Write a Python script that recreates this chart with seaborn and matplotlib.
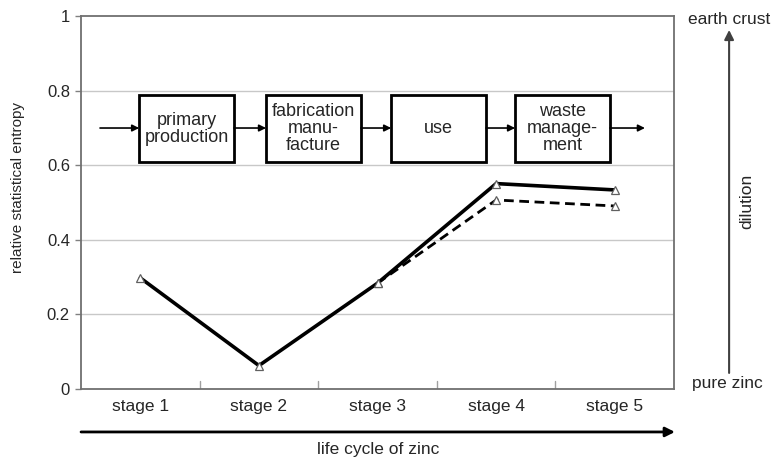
import pandas as pd
import numpy as np
import matplotlib
matplotlib.use('Agg')
import matplotlib.pyplot as plt
import matplotlib.transforms as mtransforms
from matplotlib.patches import Rectangle, FancyArrowPatch
import seaborn as sns

# data
stages = ['stage 1', 'stage 2', 'stage 3', 'stage 4', 'stage 5']
entropy_solid = [0.298, 0.063, 0.284, 0.551, 0.534]
dashed_stages = ['stage 3', 'stage 4', 'stage 5']
entropy_dashed = [0.284, 0.507, 0.491]

box_labels = ['primary\nproduction', 'fabrication\nmanu-\nfacture', 'use', 'waste\nmanage-\nment']
y_ticks = [0, 0.2, 0.4, 0.6, 0.8, 1]
y_tick_labels = ['0', '0.2', '0.4', '0.6', '0.8', '1']

sns.set_style('white')
plt.rcParams['font.family'] = ['Liberation Sans', 'DejaVu Sans']

df_solid = pd.DataFrame({'stage': stages, 'entropy': entropy_solid})
df_dashed = pd.DataFrame({'stage': dashed_stages, 'entropy': entropy_dashed})

fig = plt.figure(figsize=(7.74, 4.61), dpi=100)
ax = fig.add_axes([0.1047, 0.156, 0.7661, 0.809])

# grid lines
for y in y_ticks[1:-1]:
    ax.axhline(y, color='#c8c8c8', lw=1, zorder=0)

marker_kw = dict(marker='^', markersize=6, markerfacecolor='white',
                 markeredgecolor='#606060', markeredgewidth=0.9)
# solid first so the category order follows stage 1..5
sns.lineplot(data=df_solid, x='stage', y='entropy', ax=ax, color='black',
             lw=2.6, zorder=4, **marker_kw)
sns.lineplot(data=df_dashed, x='stage', y='entropy', ax=ax, color='black',
             lw=2, linestyle=(0, (3.5, 2)), zorder=3, **marker_kw)

ax.set_xlim(-0.5, 4.5)
ax.set_ylim(0, 1)
ax.set_yticks(y_ticks)
ax.set_yticklabels(y_tick_labels, fontsize=12)
ax.set_xticks(range(len(stages)))
ax.set_xticklabels(stages, fontsize=12.5)
ax.tick_params(axis='x', length=0, pad=7)
ax.tick_params(axis='y', length=4, width=1, color='#808080', pad=4, direction='out', left=True)
# category separator ticks
for xb in np.arange(0.5, len(stages) - 1, 1.0):
    ax.plot([xb, xb], [0, 0.022], color='#a0a0a0', lw=1, zorder=1)
ax.set_xlabel('')
ax.set_ylabel('')
for sp in ax.spines.values():
    sp.set_color('#707070')
    sp.set_linewidth(1.3)

# process boxes
box_left = [0.098, 0.312, 0.523, 0.732]
box_w = 0.16
box_y0, box_y1 = 0.609, 0.788
blend = mtransforms.blended_transform_factory(ax.transAxes, ax.transData)
for left, lab in zip(box_left, box_labels):
    ax.add_patch(Rectangle((left, box_y0), box_w, box_y1 - box_y0, transform=blend,
                           fill=True, facecolor='white', edgecolor='black', lw=2, zorder=5))
    ax.text(left + box_w / 2, (box_y0 + box_y1) / 2, lab, transform=blend, ha='center',
            va='center', fontsize=13, linespacing=1.0, zorder=6)
arrow_pts = [(0.032, box_left[0])] + [(box_left[i] + box_w, box_left[i + 1]) for i in range(3)] + [(box_left[3] + box_w, 0.951)]
for a, b in arrow_pts:
    ax.annotate('', xy=(b, 0.7), xytext=(a, 0.7), xycoords=blend, textcoords=blend,
                arrowprops=dict(arrowstyle='-|>', color='black', lw=1.2, mutation_scale=10,
                                shrinkA=0, shrinkB=0), zorder=6)

# y label
fig.text(0.023, 0.594, 'relative statistical entropy', rotation=90, ha='center',
         va='center', fontsize=11)

# bottom arrow
fig.add_artist(FancyArrowPatch((0.1047, 0.063), (0.872, 0.063),
               transform=fig.transFigure, arrowstyle='-|>', color='black', lw=2,
               mutation_scale=14, shrinkA=0, shrinkB=0))
fig.text(0.488, 0.024, 'life cycle of zinc', ha='center', va='center', fontsize=12.5)

# right side dilution arrow
fig.add_artist(FancyArrowPatch((0.942, 0.191), (0.942, 0.935),
               transform=fig.transFigure, arrowstyle='-|>', color='#404040', lw=1.5,
               mutation_scale=14, shrinkA=0, shrinkB=0))
fig.text(0.942, 0.957, 'earth crust', ha='center', va='center', fontsize=12.5)
fig.text(0.940, 0.169, 'pure zinc', ha='center', va='center', fontsize=12.5)
fig.text(0.965, 0.564, 'dilution', rotation=90, ha='center', va='center', fontsize=12.5)

fig.savefig('out.png', dpi=100, facecolor='white')
